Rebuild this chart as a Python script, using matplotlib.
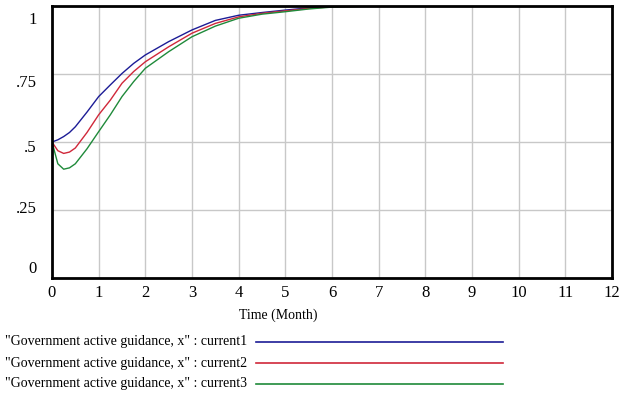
import matplotlib.pyplot as plt
from matplotlib.transforms import ScaledTranslation

# data
t = [0, 0.125, 0.25, 0.375, 0.5, 0.75, 1, 1.25, 1.5, 1.75, 2, 2.5, 3, 3.5, 4, 4.5, 5, 5.5, 6, 7, 8, 9, 10, 11, 12]
current1 = [0.5, 0.508, 0.52, 0.535, 0.556, 0.61, 0.667, 0.71, 0.752, 0.789, 0.82, 0.869, 0.912, 0.947, 0.966, 0.976, 0.985, 0.993, 0.998, 1, 1, 1, 1, 1, 1]
current2 = [0.5, 0.468, 0.458, 0.463, 0.478, 0.535, 0.60, 0.654, 0.716, 0.759, 0.795, 0.85, 0.90, 0.936, 0.96, 0.973, 0.982, 0.991, 0.997, 1, 1, 1, 1, 1, 1]
current3 = [0.5, 0.42, 0.40, 0.405, 0.42, 0.475, 0.538, 0.60, 0.667, 0.722, 0.771, 0.832, 0.887, 0.926, 0.955, 0.97, 0.979, 0.989, 0.996, 1, 1, 1, 1, 1, 1]
labels = ['"Government active guidance, x" : current1',
          '"Government active guidance, x" : current2',
          '"Government active guidance, x" : current3']
colors = ['#1c1c96', '#d0283a', '#1f8a3a']
xticks = list(range(0, 13))
yticks = [0, 0.25, 0.5, 0.75, 1]
ylabels = ['0', '.25', '.5', '.75', '1']
# vertical nudge of each y label in pixels (+ = up), as in the reference
ylabel_nudge = [11, 3, -4, -7, -12]

plt.rcParams['font.family'] = ['Liberation Serif', 'DejaVu Serif']

fig = plt.figure(figsize=(6.24, 3.99), dpi=100)
W, H = 624, 399
ax = fig.add_axes([52 / W, 1 - 278 / H, (612 - 52) / W, (278 - 6) / H])

for y, c in zip([current1, current2, current3], colors):
    ax.plot(t, y, color=c, lw=1.0)

ax.set_xlim(0, 12)
ax.set_ylim(0, 1)
ax.set_xticks(xticks)
ax.set_xticklabels([str(v) for v in xticks], fontsize=12)
ax.set_yticks(yticks)
ax.set_yticklabels(ylabels, fontsize=12)
ax.tick_params(length=0)
ax.tick_params(axis='y', pad=11)
ax.tick_params(axis='x', pad=5)
ax.grid(True, color='#c8c8c8', lw=1)
for s in ax.spines.values():
    s.set_linewidth(2)
    s.set_color('black')

for lab, dy in zip(ax.get_yticklabels(), ylabel_nudge):
    lab.set_transform(lab.get_transform() + ScaledTranslation(0, dy / 100, fig.dpi_scale_trans))

fig.text(278 / W, 1 - 315 / H, 'Time (Month)', ha='center', va='center', fontsize=10)

for i, (lab, c) in enumerate(zip(labels, colors)):
    yy = 1 - (342 + 21 * i) / H
    fig.text(5 / W, yy, lab, ha='left', va='center', fontsize=10)
    fig.add_artist(plt.Line2D([256 / W, 503 / W], [yy, yy], color=c, lw=1.2))

fig.savefig('out.png', dpi=100)
